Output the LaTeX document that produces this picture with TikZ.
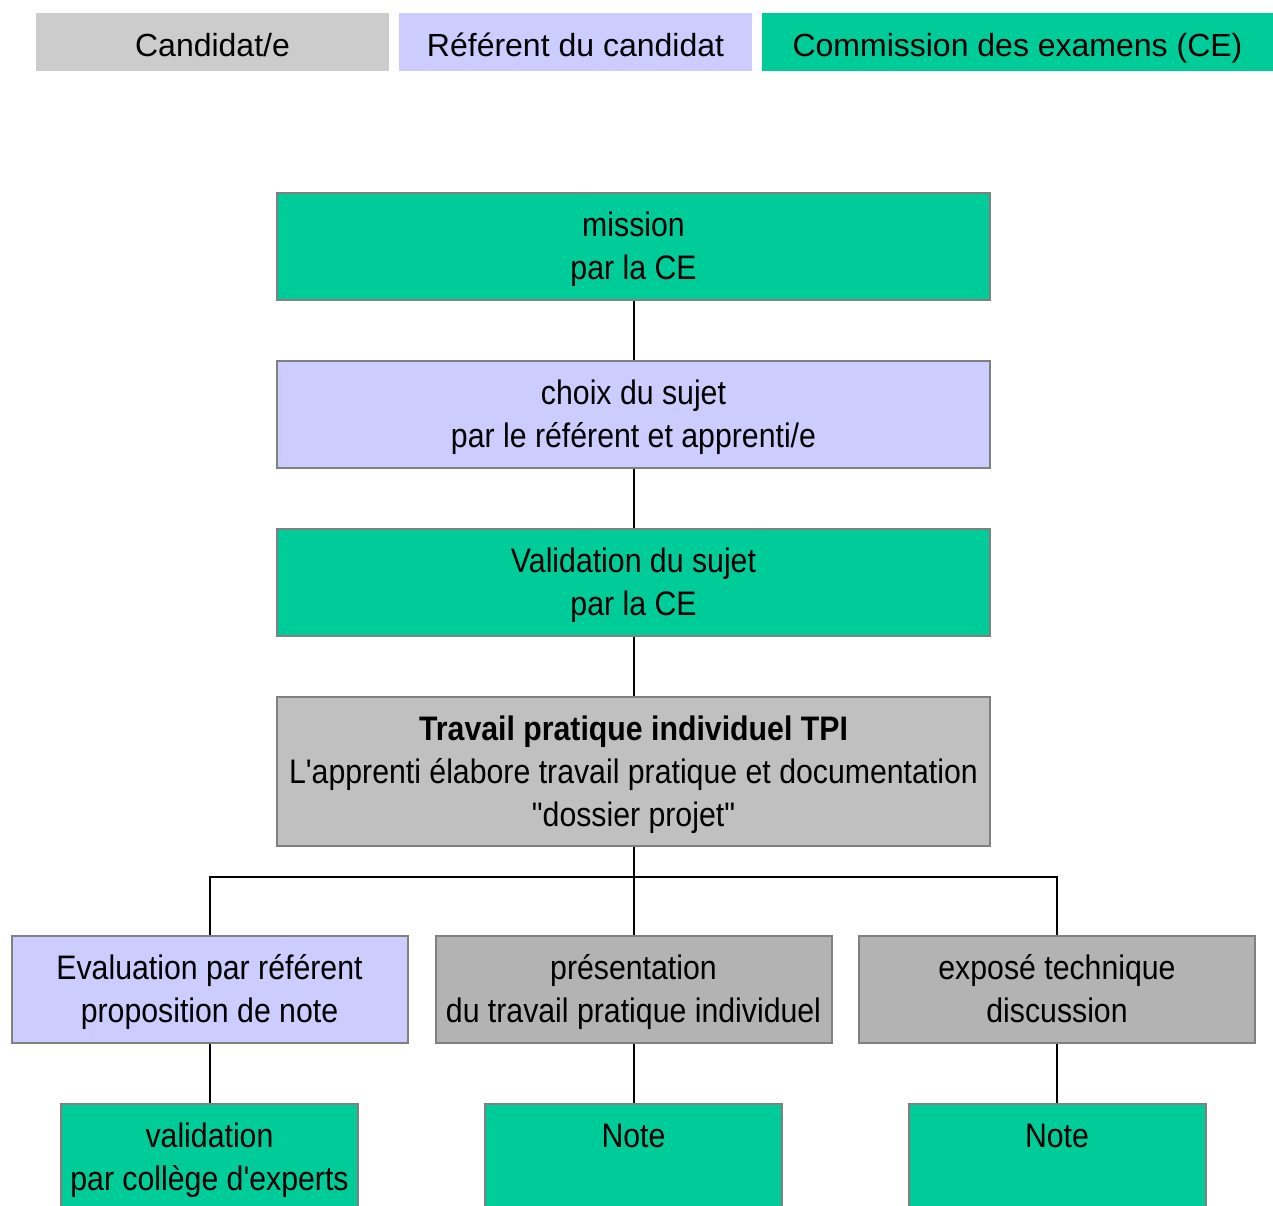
\documentclass[tikz,border=0pt]{standalone}
\usepackage{fontspec}
\setmainfont{Liberation Sans}
\newfontfamily\narrowfont[FakeStretch=0.89]{Liberation Sans}
\definecolor{ceGreen}{HTML}{00CC99}
\definecolor{refBlue}{HTML}{CCCCFF}
\definecolor{candGray}{HTML}{CCCCCC}
\definecolor{tpiGray}{HTML}{C0C0C0}
\definecolor{darkGray}{HTML}{B3B3B3}
\definecolor{edgeGray}{HTML}{808080}
\newcommand\lstrut{\rule[-10pt]{0pt}{43pt}}
\begin{document}
\begin{tikzpicture}[x=1pt,y=-1pt,
  legendbox/.style={fill=#1, draw=none, inner sep=0pt, minimum height=58pt,
    text height=30pt, text depth=2pt,
    font=\fontsize{32}{38}\selectfont},
  flowbox/.style={fill=#1, draw=edgeGray, line width=2pt, inner sep=0pt,
    minimum width=713pt, minimum height=107pt, align=center,
    font=\narrowfont\fontsize{34}{43}\selectfont},
  subbox/.style={flowbox=#1, minimum width=396pt},
  notebox/.style={flowbox=#1, minimum width=297pt},
  link/.style={draw=black, line width=2pt}]
\useasboundingbox (0,0) rectangle (1273,1205);
\clip (0,0) rectangle (1273,1205);
% legend
\node[legendbox=candGray, minimum width=353pt] (lcand) at (212.5,42) {Candidat/e};
\node[legendbox=refBlue, minimum width=353pt] (lref) at (575.5,42) {Référent du candidat};
\node[legendbox=ceGreen, minimum width=511pt] (lce) at (1017.5,42) {Commission des examens (CE)};
% main flow
\node[flowbox=ceGreen] (mission) at (633.5,246.5) {\lstrut mission\\\lstrut par la CE};
\node[flowbox=refBlue] (choix) at (633.5,414.5) {\lstrut choix du sujet\\\lstrut par le référent et apprenti/e};
\node[flowbox=ceGreen] (valid) at (633.5,582.5) {\lstrut Validation du sujet\\\lstrut par la CE};
\node[flowbox=tpiGray, minimum height=149pt] (tpi) at (633.5,771.5)
  {\lstrut\textbf{Travail pratique individuel TPI}\\\lstrut L'apprenti élabore travail pratique et documentation\\\lstrut "dossier projet"};
% second row
\node[subbox=refBlue] (eval) at (209.5,989.5) {\lstrut Evaluation par référent\\\lstrut proposition de note};
\node[subbox=darkGray] (pres) at (633.5,989.5) {\lstrut présentation\\\lstrut du travail pratique individuel};
\node[subbox=darkGray] (expo) at (1057,989.5) {\lstrut exposé technique\\\lstrut discussion};
% third row
\node[notebox=ceGreen] (vexp) at (209.5,1157.5) {\lstrut validation\\\lstrut par collège d'experts};
\node[notebox=ceGreen] (note1) at (633.5,1157.5) {\lstrut Note\\\lstrut};
\node[notebox=ceGreen] (note2) at (1057,1157.5) {\lstrut Note\\\lstrut};
% connectors
\coordinate (bar) at (633.5,877);
\draw[link] (mission.south) -- (choix.north);
\draw[link] (choix.south) -- (valid.north);
\draw[link] (valid.south) -- (tpi.north);
\draw[link] (tpi.south) -- (pres.north);
\draw[link] (eval.north) |- (bar) -| (expo.north);
\draw[link] (eval.south) -- (vexp.north);
\draw[link] (pres.south) -- (note1.north);
\draw[link] (expo.south) -- (note2.north);
\end{tikzpicture}
\end{document}
